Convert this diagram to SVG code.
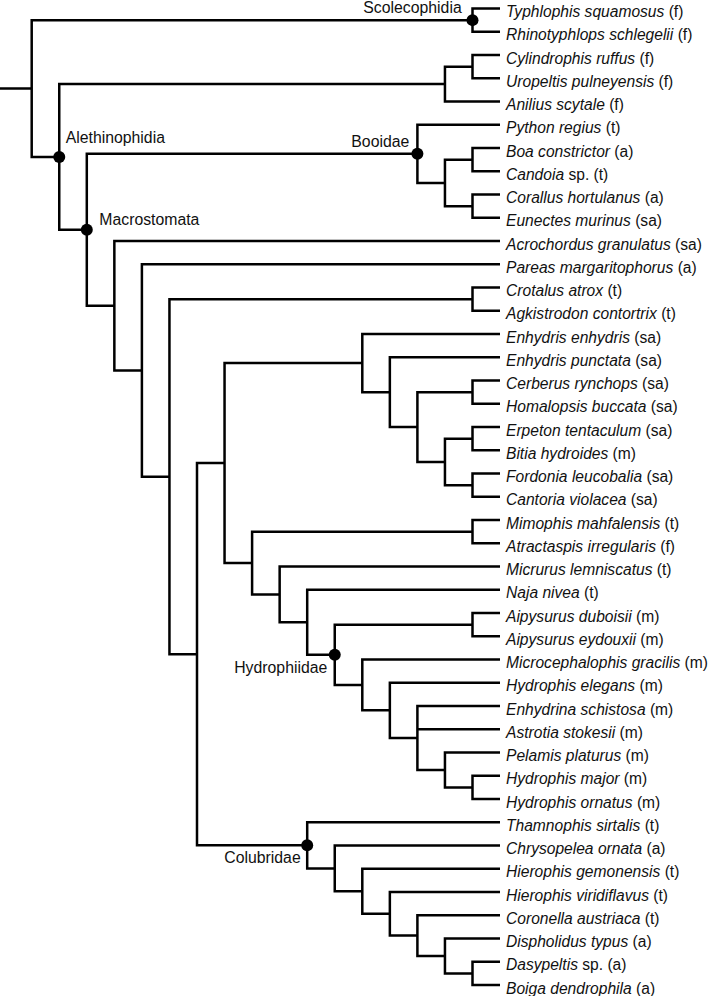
<svg xmlns="http://www.w3.org/2000/svg" width="709" height="996" viewBox="0 0 709 996">
<style>
.e{fill:none;stroke:#000;stroke-width:2.5;stroke-linejoin:miter;stroke-linecap:butt}
.d{fill:#000}
text{font-family:"Liberation Sans",Arial,sans-serif;font-size:15.6px;fill:#111}
.c{font-size:15.8px}
.i{font-style:italic}
.r{text-anchor:end}
</style>
<rect width="709" height="996" fill="#fff"/>
<g id="connectors" class="e">
<path d="M0,88.5 H31.7"/>
<path d="M472.5,20.13 H31.7 V156.9 H59.25"/>
<path d="M500,8.5 H472.5 V31.75 H500"/>
<path d="M444.95,84.06 H59.25 V229.77 H86.8"/>
<path d="M472.5,66.63 H444.95 V101.5 H500"/>
<path d="M500,55 H472.5 V78.25 H500"/>
<path d="M417.4,153.81 H86.8 V305.73 H114.35"/>
<path d="M500,124.75 H417.4 V182.88 H444.95"/>
<path d="M472.5,159.63 H444.95 V206.13 H472.5"/>
<path d="M500,148 H472.5 V171.25 H500"/>
<path d="M500,194.5 H472.5 V217.75 H500"/>
<path d="M500,241 H114.35 V370.45 H141.9"/>
<path d="M500,264.25 H141.9 V476.65 H169.45"/>
<path d="M472.5,299.13 H169.45 V654.18 H197"/>
<path d="M500,287.5 H472.5 V310.75 H500"/>
<path d="M224.55,463.03 H197 V845.32 H307.2"/>
<path d="M362.3,363.06 H224.55 V563 H252.1"/>
<path d="M500,334 H362.3 V392.13 H389.85"/>
<path d="M500,357.25 H389.85 V427 H417.4"/>
<path d="M472.5,392.13 H417.4 V461.88 H444.95"/>
<path d="M500,380.5 H472.5 V403.75 H500"/>
<path d="M472.5,438.63 H444.95 V485.13 H472.5"/>
<path d="M500,427 H472.5 V450.25 H500"/>
<path d="M500,473.5 H472.5 V496.75 H500"/>
<path d="M472.5,531.63 H252.1 V594.38 H279.65"/>
<path d="M500,520 H472.5 V543.25 H500"/>
<path d="M500,566.5 H279.65 V622.27 H307.2"/>
<path d="M500,589.75 H307.2 V654.78 H334.75"/>
<path d="M472.5,624.63 H334.75 V684.93 H362.3"/>
<path d="M500,613 H472.5 V636.25 H500"/>
<path d="M500,659.5 H362.3 V710.36 H389.85"/>
<path d="M500,682.75 H389.85 V737.97 H417.4"/>
<path d="M500,706 H417.4 V769.94 H444.95 M417.4,729.25 H500"/>
<path d="M500,752.5 H444.95 V787.38 H472.5"/>
<path d="M500,775.75 H472.5 V799 H500"/>
<path d="M500,822.25 H307.2 V868.39 H334.75"/>
<path d="M500,845.5 H334.75 V891.27 H362.3"/>
<path d="M500,868.75 H362.3 V913.8 H389.85"/>
<path d="M500,892 H389.85 V935.6 H417.4"/>
<path d="M500,915.25 H417.4 V955.94 H444.95"/>
<path d="M500,938.5 H444.95 V973.38 H472.5"/>
<path d="M500,961.75 H472.5 V985 H500"/>
</g>
<g id="clade-scolecophidia"><circle class="d" cx="472.5" cy="20.13" r="6"/><text class="c r" x="461.7" y="12.8">Scolecophidia</text></g>
<g id="clade-alethinophidia"><circle class="d" cx="59.25" cy="156.9" r="6"/><text class="c" x="65.7" y="142.7">Alethinophidia</text></g>
<g id="clade-macrostomata"><circle class="d" cx="86.8" cy="229.77" r="6"/><text class="c" x="99.3" y="225">Macrostomata</text></g>
<g id="clade-booidae"><circle class="d" cx="417.4" cy="153.81" r="6"/><text class="c r" x="409.3" y="147.3">Booidae</text></g>
<g id="clade-hydrophiidae"><circle class="d" cx="334.75" cy="654.78" r="6"/><text class="c r" x="327.3" y="673.3">Hydrophiidae</text></g>
<g id="clade-colubridae"><circle class="d" cx="307.2" cy="845.32" r="6"/><text class="c r" x="300.7" y="863.3">Colubridae</text></g>
<g id="leaves">
<g id="leaf1"><text x="506" y="17.2"><tspan class="i">Typhlophis squamosus</tspan> (f)</text></g>
<g id="leaf2"><text x="506" y="40.45"><tspan class="i">Rhinotyphlops schlegelii</tspan> (f)</text></g>
<g id="leaf3"><text x="506" y="63.7"><tspan class="i">Cylindrophis ruffus</tspan> (f)</text></g>
<g id="leaf4"><text x="506" y="86.95"><tspan class="i">Uropeltis pulneyensis</tspan> (f)</text></g>
<g id="leaf5"><text x="506" y="110.2"><tspan class="i">Anilius scytale</tspan> (f)</text></g>
<g id="leaf6"><text x="506" y="133.45"><tspan class="i">Python regius</tspan> (t)</text></g>
<g id="leaf7"><text x="506" y="156.7"><tspan class="i">Boa constrictor</tspan> (a)</text></g>
<g id="leaf8"><text x="506" y="179.95"><tspan class="i">Candoia</tspan> sp. (t)</text></g>
<g id="leaf9"><text x="506" y="203.2"><tspan class="i">Corallus hortulanus</tspan> (a)</text></g>
<g id="leaf10"><text x="506" y="226.45"><tspan class="i">Eunectes murinus</tspan> (sa)</text></g>
<g id="leaf11"><text x="506" y="249.7"><tspan class="i">Acrochordus granulatus</tspan> (sa)</text></g>
<g id="leaf12"><text x="506" y="272.95"><tspan class="i">Pareas margaritophorus</tspan> (a)</text></g>
<g id="leaf13"><text x="506" y="296.2"><tspan class="i">Crotalus atrox</tspan> (t)</text></g>
<g id="leaf14"><text x="506" y="319.45"><tspan class="i">Agkistrodon contortrix</tspan> (t)</text></g>
<g id="leaf15"><text x="506" y="342.7"><tspan class="i">Enhydris enhydris</tspan> (sa)</text></g>
<g id="leaf16"><text x="506" y="365.95"><tspan class="i">Enhydris punctata</tspan> (sa)</text></g>
<g id="leaf17"><text x="506" y="389.2"><tspan class="i">Cerberus rynchops</tspan> (sa)</text></g>
<g id="leaf18"><text x="506" y="412.45"><tspan class="i">Homalopsis buccata</tspan> (sa)</text></g>
<g id="leaf19"><text x="506" y="435.7"><tspan class="i">Erpeton tentaculum</tspan> (sa)</text></g>
<g id="leaf20"><text x="506" y="458.95"><tspan class="i">Bitia hydroides</tspan> (m)</text></g>
<g id="leaf21"><text x="506" y="482.2"><tspan class="i">Fordonia leucobalia</tspan> (sa)</text></g>
<g id="leaf22"><text x="506" y="505.45"><tspan class="i">Cantoria violacea</tspan> (sa)</text></g>
<g id="leaf23"><text x="506" y="528.7"><tspan class="i">Mimophis mahfalensis</tspan> (t)</text></g>
<g id="leaf24"><text x="506" y="551.95"><tspan class="i">Atractaspis irregularis</tspan> (f)</text></g>
<g id="leaf25"><text x="506" y="575.2"><tspan class="i">Micrurus lemniscatus</tspan> (t)</text></g>
<g id="leaf26"><text x="506" y="598.45"><tspan class="i">Naja nivea</tspan> (t)</text></g>
<g id="leaf27"><text x="506" y="621.7"><tspan class="i">Aipysurus duboisii</tspan> (m)</text></g>
<g id="leaf28"><text x="506" y="644.95"><tspan class="i">Aipysurus eydouxii</tspan> (m)</text></g>
<g id="leaf29"><text x="506" y="668.2"><tspan class="i">Microcephalophis gracilis</tspan> (m)</text></g>
<g id="leaf30"><text x="506" y="691.45"><tspan class="i">Hydrophis elegans</tspan> (m)</text></g>
<g id="leaf31"><text x="506" y="714.7"><tspan class="i">Enhydrina schistosa</tspan> (m)</text></g>
<g id="leaf32"><text x="506" y="737.95"><tspan class="i">Astrotia stokesii</tspan> (m)</text></g>
<g id="leaf33"><text x="506" y="761.2"><tspan class="i">Pelamis platurus</tspan> (m)</text></g>
<g id="leaf34"><text x="506" y="784.45"><tspan class="i">Hydrophis major</tspan> (m)</text></g>
<g id="leaf35"><text x="506" y="807.7"><tspan class="i">Hydrophis ornatus</tspan> (m)</text></g>
<g id="leaf36"><text x="506" y="830.95"><tspan class="i">Thamnophis sirtalis</tspan> (t)</text></g>
<g id="leaf37"><text x="506" y="854.2"><tspan class="i">Chrysopelea ornata</tspan> (a)</text></g>
<g id="leaf38"><text x="506" y="877.45"><tspan class="i">Hierophis gemonensis</tspan> (t)</text></g>
<g id="leaf39"><text x="506" y="900.7"><tspan class="i">Hierophis viridiflavus</tspan> (t)</text></g>
<g id="leaf40"><text x="506" y="923.95"><tspan class="i">Coronella austriaca</tspan> (t)</text></g>
<g id="leaf41"><text x="506" y="947.2"><tspan class="i">Dispholidus typus</tspan> (a)</text></g>
<g id="leaf42"><text x="506" y="970.45"><tspan class="i">Dasypeltis</tspan> sp. (a)</text></g>
<g id="leaf43"><text x="506" y="993.7"><tspan class="i">Boiga dendrophila</tspan> (a)</text></g>
</g>
</svg>
